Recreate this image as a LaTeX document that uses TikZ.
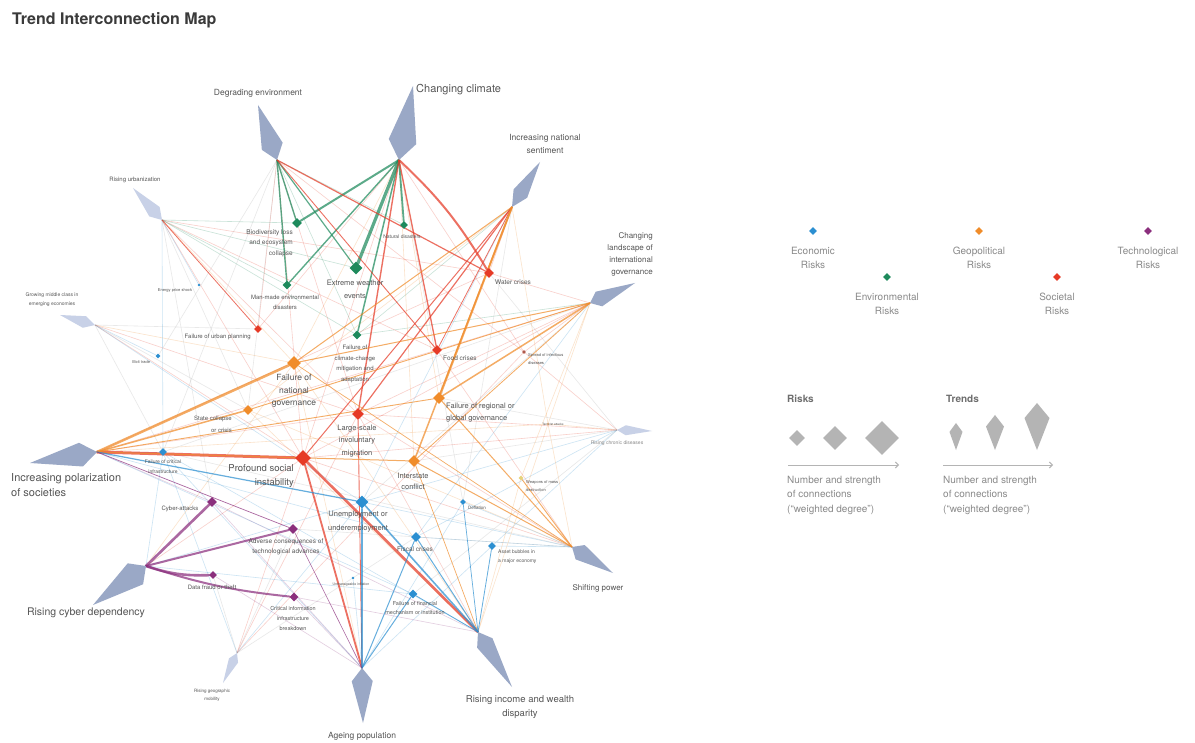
\documentclass[tikz,border=0pt]{standalone}
\usepackage{fontspec}
\setmainfont{TeX Gyre Heros}
\usetikzlibrary{shapes.geometric,calc,backgrounds,arrows.meta}
\definecolor{ceco}{HTML}{2B8FD1}
\definecolor{cenv}{HTML}{1E8A5C}
\definecolor{cgeo}{HTML}{F08C2A}
\definecolor{csoc}{HTML}{E63A26}
\definecolor{ctech}{HTML}{8B2F7D}
\definecolor{cinf}{HTML}{B0584A}
\definecolor{cwmd}{HTML}{E6D27A}
\definecolor{cgray}{HTML}{A0A0A0}
\definecolor{trendc}{HTML}{9AA8C6}
\definecolor{trendp}{HTML}{C8D1E7}
\definecolor{labc}{HTML}{555555}
\definecolor{legc}{HTML}{8A8A8A}
\definecolor{legshape}{HTML}{B4B4B4}
\definecolor{titc}{HTML}{3A3A3A}
\newcommand\fsz[2]{\fontsize{#1}{#2}\selectfont}
\newcommand\kitepoly[4]{%
  \coordinate (#1-m) at ($(#1)!#2!(#1-o)$);
  \fill[#4] (#1) -- ($(#1-m)!#3!90:(#1-o)$) -- (#1-o) -- ($(#1-m)!#3!-90:(#1-o)$) -- cycle;}
\tikzset{
  dia/.style={diamond, aspect=1, inner sep=0pt, minimum size=#1, draw=none},
  lab/.style={text=labc, inner sep=0pt, align=center},
  lk/.style={draw=#1, draw opacity=.72, line cap=round},
  fl/.style={draw=#1, draw opacity=.24, line width=.6pt},
}
\begin{document}
\begin{tikzpicture}[x=1pt,y=-1pt]
\useasboundingbox (0,0) rectangle (1195,743);

% title
\node[anchor=west, text=titc, inner sep=0pt, font=\fsz{16}{18}\bfseries] (title) at (12,20) {Trend Interconnection Map};

% ---- trends (inner / outer points)
\coordinate (tcc) at (399,160); \coordinate (tcc-o) at (413,86);
\coordinate (tde) at (277,160); \coordinate (tde-o) at (258,105);
\coordinate (tns) at (512,207); \coordinate (tns-o) at (540,162);
\coordinate (tig) at (590,303); \coordinate (tig-o) at (635,283);
\coordinate (tcd) at (617,430); \coordinate (tcd-o) at (652,431);
\coordinate (tsp) at (572,547); \coordinate (tsp-o) at (613,573);
\coordinate (tid) at (478,632); \coordinate (tid-o) at (512,687);
\coordinate (tap) at (362,668); \coordinate (tap-o) at (363,723);
\coordinate (tgm) at (237,653); \coordinate (tgm-o) at (223,683);
\coordinate (tcy) at (146,566); \coordinate (tcy-o) at (93,605);
\coordinate (tpo) at (97,452);  \coordinate (tpo-o) at (30,463);
\coordinate (tmc) at (95,325);  \coordinate (tmc-o) at (60,315);
\coordinate (tur) at (162,220); \coordinate (tur-o) at (133,188);

% ---- risks
\node[dia=10pt, fill=cenv] (bio) at (297,223) {};
\node[dia=8pt,  fill=cenv] (nat) at (404,225) {};
\node[dia=13pt, fill=cenv] (xwe) at (356,268) {};
\node[dia=9pt,  fill=cenv] (mme) at (287,285) {};
\node[dia=9pt,  fill=cenv] (ccm) at (357,335) {};
\node[dia=10pt, fill=csoc] (wat) at (489,273) {};
\node[dia=10pt, fill=csoc] (foo) at (437,350) {};
\node[dia=8pt,  fill=csoc] (urb) at (258,329) {};
\node[dia=12pt, fill=csoc] (mig) at (358,414) {};
\node[dia=16pt, fill=csoc] (soc) at (303,458) {};
\node[dia=4pt,  fill=cinf] (inf) at (524,352) {};
\node[dia=14pt, fill=cgeo] (ngo) at (294,363) {};
\node[dia=10pt, fill=cgeo] (sta) at (248,410) {};
\node[dia=12pt, fill=cgeo] (rgo) at (439,398) {};
\node[dia=12pt, fill=cgeo] (isc) at (414,461) {};
\node[dia=2pt,  fill=cgeo] (ter) at (548,424) {};
\node[dia=5pt,  fill=cwmd] (wmd) at (521,478) {};
\node[dia=8pt,  fill=ceco] (cri) at (163,452) {};
\node[dia=13pt, fill=ceco] (une) at (362,502) {};
\node[dia=10pt, fill=ceco] (fis) at (416,537) {};
\node[dia=8pt,  fill=ceco] (ass) at (492,546) {};
\node[dia=6pt,  fill=ceco] (def) at (463,502) {};
\node[dia=9pt,  fill=ceco] (fin) at (413,594) {};
\node[dia=3pt,  fill=ceco] (inl) at (353,578) {};
\node[dia=5pt,  fill=ceco] (ill) at (158,356) {};
\node[dia=3pt,  fill=ceco] (ene) at (199,285) {};
\node[dia=10pt, fill=ctech] (cya) at (212,502) {};
\node[dia=10pt, fill=ctech] (adv) at (293,529) {};
\node[dia=8pt,  fill=ctech] (dat) at (213,575) {};
\node[dia=9pt,  fill=ctech] (cii) at (294,597) {};

% ---- connectors
\begin{pgfonlayer}{background}
\fill[white] (0,0) rectangle (1195,743);
\foreach \a/\b/\c in {
 tur/soc/csoc, tur/mig/csoc, tur/ngo/cgeo, tur/mme/cenv, tur/xwe/cenv, tur/ccm/cenv, tur/cri/ceco, tur/foo/csoc, tur/wat/csoc, tur/bio/cenv, tur/ene/ceco,
 tmc/ngo/cgeo, tmc/soc/csoc, tmc/urb/cgray, tmc/ill/ceco, tmc/une/ceco, tmc/mig/csoc,
 tcd/inf/csoc, tcd/fis/ceco, tcd/soc/csoc, tcd/une/ceco, tcd/ter/cgeo, tcd/mig/csoc, tcd/ass/ceco,
 tgm/mig/csoc, tgm/soc/csoc, tgm/inf/csoc, tgm/cri/ceco, tgm/une/ceco,
 tcy/une/ceco, tcy/fin/ceco, tcy/cri/ceco, tcy/soc/csoc, tcy/ngo/cgeo,
 tsp/ter/cgeo, tsp/sta/cgeo, tsp/mig/csoc, tsp/def/ceco, tsp/soc/csoc, tsp/fis/ceco, tsp/une/ceco, tsp/ass/ceco, tsp/foo/csoc,
 tig/ter/cgeo, tig/mig/csoc, tig/wmd/cgeo, tig/inf/csoc, tig/foo/csoc, tig/wat/csoc, tig/ccm/cenv, tig/soc/csoc, tig/fis/ceco,
 tns/wat/csoc, tns/ter/cgeo, tns/sta/cgeo, tns/ccm/cenv, tns/une/ceco,
 tcc/soc/csoc, tcc/isc/cgeo, tcc/rgo/cgeo, tcc/inf/csoc, tcc/urb/csoc, tcc/ngo/cgeo,
 tde/mig/csoc, tde/soc/csoc, tde/urb/csoc, tde/ccm/cenv, tde/nat/cenv, tde/inf/csoc,
 tid/wmd/cgeo, tid/ter/cgeo, tid/cri/ceco, tid/ngo/cgeo, tid/cii/ctech, tid/mig/csoc, tid/sta/cgeo, tid/cya/ctech,
 tap/cii/ctech, tap/ass/ceco, tap/inl/ceco, tap/cri/ceco, tap/def/ceco, tap/ngo/cgeo, tap/dat/ctech, tap/cya/ctech,
 tpo/cri/ceco, tpo/fis/ceco, tpo/ter/cgeo, tpo/cya/ctech, tpo/mig/csoc, tpo/wat/csoc, tpo/foo/csoc, tpo/fin/ceco,
 tde/ill/cgray, tde/cri/cgray, tur/sta/cgray, tur/cya/cgray, tmc/sta/cgray, tmc/cri/cgray, tcd/rgo/cgray, tcd/isc/cgray,
 tcd/fin/cgray, tgm/adv/cgray, tgm/dat/cgray, tgm/fis/cgray, tsp/cri/cgray, tig/une/cgray, tns/def/cgray, tcc/def/cgray,
 tde/sta/cgray, tig/cri/cgray, tsp/adv/cgray, tcd/wat/cgray}
 \draw[fl=\c] (\a) -- (\b);
\foreach \a/\b/\c/\w in {
 tcc/xwe/cenv/3.2, tcc/bio/cenv/2, tcc/mme/cenv/1.4, tcc/nat/cenv/1.8, tcc/ccm/cenv/1.5,
 tde/bio/cenv/1.4, tde/mme/cenv/1.4, tde/xwe/cenv/1.2,
 tcc/foo/csoc/1.3, tcc/mig/csoc/1.4, tde/wat/csoc/1.2, tde/foo/csoc/0.9,
 tns/mig/csoc/1.2, tns/soc/csoc/1, tns/foo/csoc/0.8, tpo/soc/csoc/3, tid/soc/csoc/2.6,
 tap/soc/csoc/1.8, tap/mig/csoc/0.9, tur/urb/csoc/0.8,
 tns/rgo/cgeo/2, tns/isc/cgeo/1.5, tns/ngo/cgeo/1, tig/rgo/cgeo/1.5, tig/ngo/cgeo/1,
 tig/sta/cgeo/0.9, tig/isc/cgeo/0.8, tpo/ngo/cgeo/2.6, tpo/sta/cgeo/1.5, tpo/rgo/cgeo/0.9,
 tpo/isc/cgeo/1, tsp/isc/cgeo/1, tsp/rgo/cgeo/1, tsp/wmd/cgeo/0.9, tsp/ngo/cgeo/0.7, tid/isc/cgeo/0.7,
 tpo/une/ceco/1.2, tid/une/ceco/1.6, tap/une/ceco/1.5, tap/fis/ceco/1, tap/fin/ceco/1,
 tid/fis/ceco/1, tid/fin/ceco/0.8, tid/ass/ceco/0.8, tid/def/ceco/0.7,
 tcy/cya/ctech/2.6, tcy/adv/ctech/2, tpo/adv/ctech/0.7, tap/adv/ctech/0.6}
 \draw[lk=\c, line width=\w pt] (\a) -- (\b);
\draw[lk=csoc, line width=2pt] (tcc) to[bend left=8] (wat);
\draw[lk=ctech, line width=2.6pt] (tcy) to[bend right=10] (dat);
\draw[lk=ctech, line width=2pt] (tcy) to[bend right=6] (cii);
\end{pgfonlayer}

% ---- trend kites
\kitepoly{tcc}{0.25}{14pt}{trendc}
\kitepoly{tde}{0.25}{11pt}{trendc}
\kitepoly{tns}{0.3}{8pt}{trendc}
\kitepoly{tig}{0.2}{8pt}{trendc}
\kitepoly{tcd}{0.25}{5pt}{trendp}
\kitepoly{tsp}{0.2}{8.5pt}{trendc}
\kitepoly{tid}{0.2}{9pt}{trendc}
\kitepoly{tap}{0.24}{10.5pt}{trendc}
\kitepoly{tgm}{0.25}{5pt}{trendp}
\kitepoly{tcy}{0.2}{13pt}{trendc}
\kitepoly{tpo}{0.24}{12pt}{trendc}
\kitepoly{tmc}{0.3}{6pt}{trendp}
\kitepoly{tur}{0.26}{7pt}{trendp}

% ---- trend labels
\node[lab, anchor=west, font=\fsz{11}{13}] (l-tcc) at (416,90) {Changing climate};
\node[lab, font=\fsz{8.5}{10}] (l-tde) at (258,93) {Degrading environment};
\node[lab, font=\fsz{8.5}{13}] (l-tns) at (545,144) {Increasing national\\sentiment};
\node[lab, align=right, anchor=east, font=\fsz{8}{12}] (l-tig) at (653,254) {Changing\\landscape of\\international\\governance};
\node[lab, text=labc!70, font=\fsz{5}{6}] (l-tcd) at (617,443) {Rising chronic diseases};
\node[lab, font=\fsz{8}{10}] (l-tsp) at (598,588) {Shifting power};
\node[lab, font=\fsz{9.5}{14}] (l-tid) at (520,707) {Rising income and wealth\\disparity};
\node[lab, font=\fsz{8.5}{10}] (l-tap) at (362,736) {Ageing population};
\node[lab, font=\fsz{4.5}{8}] (l-tgm) at (212,695) {Rising geographic\\mobility};
\node[lab, font=\fsz{10.5}{12}] (l-tcy) at (86,613) {Rising cyber dependency};
\node[lab, align=left, anchor=west, font=\fsz{11}{15}] (l-tpo) at (11,485) {Increasing polarization\\of societies};
\node[lab, font=\fsz{5}{9}] (l-tmc) at (52,300) {Growing middle class in\\emerging economies};
\node[lab, font=\fsz{6}{7}] (l-tur) at (135,180) {Rising urbanization};

% ---- risk labels
\node[lab, align=right, anchor=east, font=\fsz{6.5}{10.5}] (l-bio) at (293,243) {Biodiversity loss\\and ecosystem\\collapse};
\node[lab, font=\fsz{5}{6}] (l-nat) at (402,237) {Natural disasters};
\node[lab, font=\fsz{7.5}{13}] (l-xwe) at (355,289) {Extreme weather\\events};
\node[lab, font=\fsz{6}{10}] (l-mme) at (285,302) {Man-made environmental\\disasters};
\node[lab, font=\fsz{6}{10.5}] (l-ccm) at (355,364) {Failure of\\climate-change\\mitigation and\\adaptation};
\node[lab, anchor=west, font=\fsz{6.5}{8}] (l-wat) at (495,282) {Water crises};
\node[lab, anchor=west, font=\fsz{6.5}{8}] (l-foo) at (443,358) {Food crises};
\node[lab, anchor=east, font=\fsz{6}{7}] (l-urb) at (251,337) {Failure of urban planning};
\node[lab, font=\fsz{7.5}{12.5}] (l-mig) at (357,441) {Large-scale\\involuntary\\migration};
\node[lab, align=right, anchor=east, font=\fsz{9.5}{14}] (l-soc) at (294,476) {Profound social\\instability};
\node[lab, align=left, anchor=west, font=\fsz{4}{8}] (l-inf) at (528,359) {Spread of infectious\\diseases};
\node[lab, font=\fsz{8.5}{12.5}] (l-ngo) at (294,391) {Failure of\\national\\governance};
\node[lab, align=right, anchor=east, font=\fsz{6}{12}] (l-sta) at (232,424) {State collapse\\or crisis};
\node[lab, align=left, anchor=west, font=\fsz{7.5}{12}] (l-rgo) at (446,413) {Failure of regional or\\global governance};
\node[lab, font=\fsz{7.5}{11}] (l-isc) at (413,481) {Interstate\\conflict};
\node[lab, font=\fsz{3}{4}] (l-ter) at (553,424) {Terrorist attacks};
\node[lab, align=left, anchor=west, font=\fsz{4}{8}] (l-wmd) at (526,486) {Weapons of mass\\destruction};
\node[lab, font=\fsz{5}{10}] (l-cri) at (163,467) {Failure of critical\\infrastructure};
\node[lab, font=\fsz{7.5}{14}] (l-une) at (358,522) {Unemployment or\\underemployment};
\node[lab, font=\fsz{6.5}{8}] (l-fis) at (415,549) {Fiscal crises};
\node[lab, align=left, anchor=west, font=\fsz{5}{9}] (l-ass) at (498,557) {Asset bubbles in\\a major economy};
\node[lab, anchor=west, font=\fsz{4.5}{6}] (l-def) at (468,508) {Deflation};
\node[lab, font=\fsz{5.5}{9}] (l-fin) at (415,608) {Failure of financial\\mechanism or institution};
\node[lab, font=\fsz{3.5}{4}] (l-inl) at (351,585) {Unmanageable inflation};
\node[lab, font=\fsz{4}{5}] (l-ill) at (141,362) {Illicit trade};
\node[lab, font=\fsz{4}{5}] (l-ene) at (175,290) {Energy price shock};
\node[lab, font=\fsz{6}{7}] (l-cya) at (180,509) {Cyber-attacks};
\node[lab, font=\fsz{6.5}{10}] (l-adv) at (286,547) {Adverse consequences of\\technological advances};
\node[lab, font=\fsz{6}{7}] (l-dat) at (212,587) {Data fraud or theft};
\node[lab, font=\fsz{5.5}{10}] (l-cii) at (293,618) {Critical information\\infrastructure\\breakdown};

% ---- legend: categories
\node[dia=8pt, fill=ceco] (lg-eco) at (813,231) {};
\node[lab, text=legc, font=\fsz{10}{14}] (lt-eco) at (813,258) {Economic\\Risks};
\node[dia=8pt, fill=cenv] (lg-env) at (887,277) {};
\node[lab, text=legc, font=\fsz{10}{14}] (lt-env) at (887,304) {Environmental\\Risks};
\node[dia=8pt, fill=cgeo] (lg-geo) at (979,231) {};
\node[lab, text=legc, font=\fsz{10}{14}] (lt-geo) at (979,258) {Geopolitical\\Risks};
\node[dia=8pt, fill=csoc] (lg-soc) at (1057,277) {};
\node[lab, text=legc, font=\fsz{10}{14}] (lt-soc) at (1057,304) {Societal\\Risks};
\node[dia=8pt, fill=ctech] (lg-tech) at (1148,231) {};
\node[lab, text=legc, font=\fsz{10}{14}] (lt-tech) at (1148,258) {Technological\\Risks};

% ---- legend: sizes
\node[lab, anchor=west, text=legc!80!black, font=\fsz{10}{12}\bfseries] (lg-rh) at (787,399) {Risks};
\node[lab, anchor=west, text=legc!80!black, font=\fsz{10}{12}\bfseries] (lg-th) at (946,399) {Trends};
\node[dia=16pt, fill=legshape] (lg-d1) at (797,438) {};
\node[dia=24pt, fill=legshape] (lg-d2) at (835,438) {};
\node[dia=34pt, fill=legshape] (lg-d3) at (882,438) {};
\coordinate (lk1) at (956,423); \coordinate (lk1-o) at (956,450);
\coordinate (lk2) at (995,415); \coordinate (lk2-o) at (995,450);
\coordinate (lk3) at (1037,403); \coordinate (lk3-o) at (1037,450);
\kitepoly{lk1}{0.33}{6.5pt}{legshape}
\kitepoly{lk2}{0.33}{9pt}{legshape}
\kitepoly{lk3}{0.32}{12.5pt}{legshape}
\coordinate (la1s) at (788,465); \coordinate (la1e) at (899,465);
\coordinate (la2s) at (943,465); \coordinate (la2e) at (1053,465);
\draw[legshape, line width=1pt, -{Straight Barb[length=3pt,width=6pt]}] (la1s) -- (la1e);
\draw[legshape, line width=1pt, -{Straight Barb[length=3pt,width=6pt]}] (la2s) -- (la2e);
\node[lab, anchor=north west, align=left, text=legc, font=\fsz{10}{14.3}] (lg-n1) at (787,476) {Number and strength\\of connections\\(“weighted degree”)};
\node[lab, anchor=north west, align=left, text=legc, font=\fsz{10}{14.3}] (lg-n2) at (943,476) {Number and strength\\of connections\\(“weighted degree”)};
\end{tikzpicture}
\end{document}
